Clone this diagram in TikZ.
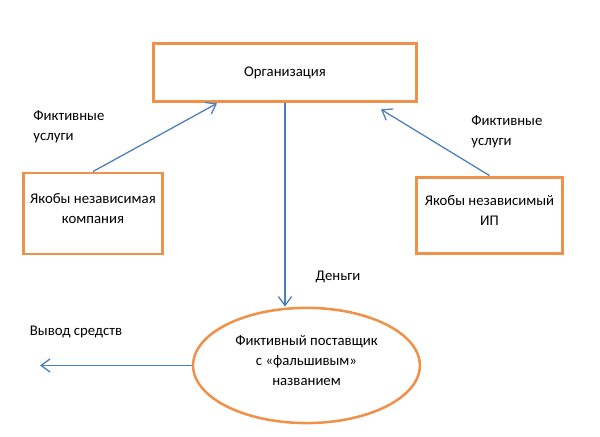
\documentclass[tikz,border=0pt]{standalone}
\usepackage{fontspec}
\setmainfont{Carlito}
\usetikzlibrary{arrows.meta,shapes.geometric}
\definecolor{boxorange}{HTML}{F0914A}
\definecolor{arrowblue}{HTML}{4A7EBB}
\begin{document}
\begin{tikzpicture}[
  font=\fontsize{7}{9.45}\selectfont,
  box/.style={draw=boxorange, line width=1.4pt, fill=white, align=center, inner sep=0pt},
  supplier/.style={ellipse, draw=boxorange, line width=1.2pt, align=center, inner sep=0pt,
    minimum width=3.78cm, minimum height=1.92cm},
  flow/.style={draw=arrowblue, line width=0.6pt, -{Straight Barb[length=1.5mm,width=2.2mm]}},
  note/.style={align=left, inner sep=0pt}]
  \useasboundingbox (0,0) rectangle (10,7.283);
  \node[box, minimum width=4.37cm, minimum height=0.98cm] (org) at (4.75,6.075) {Организация};
  \node[box, minimum width=2.33cm, minimum height=1.35cm] (lbox) at (1.55,3.725)
    {Якобы независимая\\компания\\[-4.7pt]};
  \node[box, minimum width=2.42cm, minimum height=1.28cm] (rbox) at (8.158,3.692)
    {Якобы независимый\\ИП\\[-4.7pt]};
  \node[supplier] (sup) at (5.108,1.192) {Фиктивный поставщик\\с «фальшивым»\\названием\\[-4.7pt]};
  \coordinate (out) at (0.667,1.167);
  \node[note, anchor=west] (lnote) at (0.55,5.167) {Фиктивные\\услуги};
  \node[note, anchor=west] (rnote) at (7.85,5.083) {Фиктивные\\услуги};
  \node[note] (money) at (5.633,2.667) {Деньги};
  \node[note] (cash) at (1.267,1.75) {Вывод средств};
  \draw[flow] (lbox.north) -- ([xshift=-1.133cm]org.south);
  \draw[flow] (rbox.north) -- ([xshift=1.6cm,yshift=-0.1cm]org.south);
  \draw[flow] (org.south) -- (org.south |- sup.north);
  \draw[flow] (sup.west) -- (sup.west -| out);
\end{tikzpicture}
\end{document}
